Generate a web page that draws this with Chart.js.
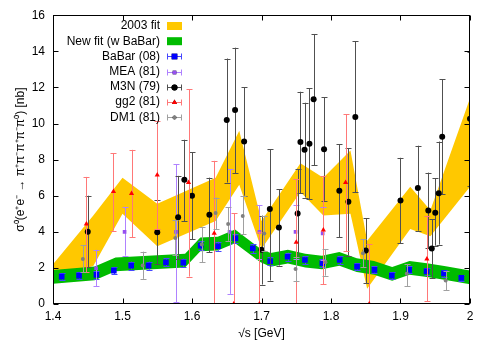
<!DOCTYPE html>
<html>
<head>
<meta charset="utf-8">
<script src="https://cdn.jsdelivr.net/npm/chart.js@4.4.0/dist/chart.umd.min.js"></script>
<style>
  html, body { margin: 0; padding: 0; background: #fff; }
  #wrap { width: 491px; height: 343px; }
</style>
</head>
<body>
<div id="wrap"><canvas id="xsec"></canvas></div>
<script>
// ---- data ----
const xTicks = [1.4, 1.5, 1.6, 1.7, 1.8, 1.9, 2.0];
const yTicks = [0, 2, 4, 6, 8, 10, 12, 14, 16];

// 2003 fit band
const fit03X  = [1.4, 1.458, 1.5, 1.55, 1.634, 1.668, 1.70, 1.756, 1.789, 1.828, 1.852, 1.914, 1.943, 2.0];
const fit03Lo = [1.45, 2.1, 5.0, 3.2, 4.6, 6.6, 3.05, 6.2, 4.9, 5.0, 0.85, 4.15, 3.75, 6.5];
const fit03Hi = [2.2, 4.9, 7.0, 5.55, 7.0, 9.6, 4.6, 7.8, 7.0, 8.5, 3.5, 6.5, 5.2, 11.4];

// new fit (w BaBar) band
const newX  = [1.4, 1.46, 1.49, 1.59, 1.612, 1.637, 1.662, 1.698, 1.713, 1.738, 1.763, 1.787, 1.812, 1.837, 1.862, 1.888, 1.913, 1.938, 1.963, 2.0];
const newLo = [1.12, 1.32, 1.82, 2.02, 2.92, 2.97, 3.37, 2.32, 2.07, 2.25, 2.02, 1.92, 2.12, 1.77, 1.62, 1.29, 1.62, 1.50, 1.34, 1.10];
const newHi = [1.88, 2.08, 2.58, 2.78, 3.68, 3.73, 4.13, 3.08, 2.83, 3.01, 2.78, 2.68, 2.88, 2.53, 2.38, 2.05, 2.38, 2.26, 2.10, 1.86];

// BaBar (08)
const babarX   = [1.4125, 1.4375, 1.4625, 1.4875, 1.5125, 1.5375, 1.5625, 1.5875, 1.6125, 1.6375, 1.6625, 1.6875,
                  1.7125, 1.7375, 1.7625, 1.7875, 1.8125, 1.8375, 1.8625, 1.8875, 1.9125, 1.9375, 1.9625, 1.9875];
const babarY   = [1.52, 1.57, 1.61, 1.85, 2.13, 2.13, 2.31, 2.29, 3.23, 3.20, 3.64, 3.08,
                  2.37, 2.62, 2.44, 2.26, 2.44, 2.07, 1.89, 1.57, 1.89, 1.81, 1.70, 1.45];
const babarErr = [0.18, 0.18, 0.20, 0.20, 0.22, 0.22, 0.22, 0.22, 0.25, 0.25, 0.25, 0.25,
                  0.22, 0.22, 0.22, 0.22, 0.22, 0.20, 0.20, 0.18, 0.20, 0.20, 0.18, 0.16];

// MEA (81)
const meaX  = [1.462, 1.503, 1.577, 1.654, 1.697, 1.749, 1.788];
const meaY  = [1.98, 4.0, 4.0, 4.0, 4.0, 4.0, 3.91];
const meaLo = [0.97, 2.68, 0.10, 0.56, 2.5, 2.5, 2.44];
const meaHi = [3.0, 5.35, 7.75, 7.47, 5.48, 5.5, 5.39];

// M3N (79)
const m3nX  = [1.450, 1.550, 1.580, 1.589, 1.600, 1.625, 1.650, 1.662, 1.675, 1.700, 1.712, 1.725, 1.752, 1.756, 1.762,
               1.769, 1.775, 1.790, 1.812, 1.825, 1.835, 1.850, 1.900, 1.925, 1.940, 1.945, 1.950, 1.955, 1.960, 2.000];
const m3nY  = [4.0, 3.97, 4.8, 6.88, 6.0, 4.94, 10.2, 10.75, 9.0, 3.0, 5.26, 4.24, 5.02, 8.98, 8.55,
               8.88, 11.34, 8.57, 6.27, 5.66, 10.36, 2.96, 5.74, 6.42, 5.18, 3.07, 5.06, 6.14, 9.27, 10.27];
const m3nLo = [2.03, 2.2, 2.5, 4.6, 3.6, 2.86, 6.73, 7.25, 6.0, 1.08, 1.3, 2.13, 2.59, 6.14, 5.9,
               5.8, 7.7, 5.72, 3.69, 2.68, 6.18, 1.15, 3.36, 4.06, 3.08, 1.45, 3.23, 3.29, 6.09, 6.55];
const m3nHi = [6.0, 5.76, 7.1, 9.1, 8.4, 7.0, 13.6, 14.2, 12.0, 4.9, 8.57, 6.36, 7.47, 11.76, 11.15,
               11.94, 14.96, 11.46, 8.85, 8.63, 14.56, 4.76, 8.1, 8.77, 7.28, 4.7, 6.97, 9.0, 12.44, 13.95];

// gg2 (81)
const gg2X  = [1.448, 1.487, 1.513, 1.550, 1.595, 1.632, 1.660, 1.697, 1.750, 1.789, 1.821, 1.855, 1.938];
const gg2Y  = [4.43, 6.23, 6.12, 7.15, 6.73, 3.92, 0, 0, 3.42, 4.1, 6.73, 0, 2.5];
const gg2Lo = [1.76, 4.06, 3.69, 4.15, 1.52, -0.1, 0, 0, 0, 1.1, 2.92, 0, 0.14];
const gg2Hi = [7.04, 8.35, 8.54, 10.14, 11.9, 7.93, 5.02, 4.0, 6.9, 7.1, 10.5, 3.3, 4.89];

// DM1 (81)
const dm1X  = [1.443, 1.529, 1.576, 1.614, 1.634, 1.652, 1.673, 1.704, 1.749, 1.792, 1.846, 1.909, 1.965];
const dm1Y  = [2.5, 2.13, 3.66, 3.29, 5.04, 4.43, 4.87, 3.91, 1.94, 2.31, 2.81, 1.67, 1.3];
const dm1Lo = [1.76, 1.39, 2.7, 2.31, 4.15, 3.5, 3.88, 2.96, 1.26, 1.57, 2.03, 0.97, 0.75];
const dm1Hi = [3.27, 2.9, 4.65, 4.24, 5.9, 5.35, 6.0, 4.89, 2.59, 3.05, 3.6, 2.22, 1.81];

const FONT = "'Liberation Sans', Arial, sans-serif";
const pts = (xs, ys) => xs.map((x, i) => ({ x: x, y: ys[i] }));

function band(xs, ys, color, order, fill) {
    return {
        type: 'line', data: pts(xs, ys), order: order,
        borderWidth: 0, pointRadius: 0, tension: 0,
        backgroundColor: color, borderColor: color,
        fill: fill ? '-1' : false
    };
}

function series(label, xs, ys, lo, hi, opts) {
    return Object.assign({
        type: 'scatter', label: label, data: pts(xs, ys),
        errLo: lo, errHi: hi
    }, opts);
}

const babarLo = babarY.map((v, i) => v - babarErr[i]);
const babarHi = babarY.map((v, i) => v + babarErr[i]);

const datasets = [
    band(fit03X, fit03Lo, '#ffc800', 21, false),
    band(fit03X, fit03Hi, '#ffc800', 20, true),
    band(newX, newLo, '#00bb00', 11, false),
    band(newX, newHi, '#00bb00', 10, true),
    series('BaBar (08)', babarX, babarY, babarLo, babarHi,
        { order: 5, pointStyle: 'rect', pointRadius: 4, backgroundColor: '#0000ff', borderColor: '#0000ff', borderWidth: 0, barColor: 'rgb(70,70,255)' }),
    series('MEA (81)', meaX, meaY, meaLo, meaHi,
        { order: 4, pointStyle: 'rect', pointRadius: 2.6, backgroundColor: 'rgb(150,80,240)', borderColor: 'rgb(150,80,240)', borderWidth: 0, barColor: 'rgb(175,130,255)' }),
    series('M3N (79)', m3nX, m3nY, m3nLo, m3nHi,
        { order: 3, pointStyle: 'circle', pointRadius: 3, backgroundColor: '#000', borderColor: '#000', borderWidth: 0, barColor: 'rgb(80,80,80)' }),
    series('gg2 (81)', gg2X, gg2Y, gg2Lo, gg2Hi,
        { order: 2, pointStyle: 'triangle', pointRadius: 3, backgroundColor: '#ff0000', borderColor: '#ff0000', borderWidth: 0, barColor: 'rgb(255,120,120)' }),
    series('DM1 (81)', dm1X, dm1Y, dm1Lo, dm1Hi,
        { order: 1, pointStyle: 'circle', pointRadius: 2, backgroundColor: '#808080', borderColor: '#808080', borderWidth: 0, barColor: 'rgb(160,160,160)' })
];

// vertical error bars, drawn just before each scatter set's markers
const errorBars = {
    id: 'errorBars',
    beforeDatasetDraw(chart, args) {
        const ds = chart.data.datasets[args.index];
        if (!ds.errLo) return;
        const { ctx, chartArea: a, scales: { x, y } } = chart;
        ctx.save();
        ctx.beginPath();
        ctx.rect(a.left, a.top, a.right - a.left, a.bottom - a.top);
        ctx.clip();
        ctx.strokeStyle = ds.barColor;
        ctx.lineWidth = 1;
        ds.data.forEach((p, i) => {
            const px = Math.round(x.getPixelForValue(p.x)) + 0.5;
            const y1 = y.getPixelForValue(ds.errLo[i]);
            const y2 = y.getPixelForValue(ds.errHi[i]);
            ctx.beginPath();
            ctx.moveTo(px, y1); ctx.lineTo(px, y2);
            ctx.moveTo(px - 3, Math.round(y1) + 0.5); ctx.lineTo(px + 3, Math.round(y1) + 0.5);
            ctx.moveTo(px - 3, Math.round(y2) + 0.5); ctx.lineTo(px + 3, Math.round(y2) + 0.5);
            ctx.stroke();
        });
        ctx.restore();
    }
};

// gnuplot-like frame with inward ticks + key
const frame = {
    id: 'frame',
    afterDraw(chart) {
        const { ctx, chartArea: a, scales: { x, y } } = chart;
        ctx.save();
        ctx.strokeStyle = '#000';
        ctx.lineWidth = 1;
        const L = Math.round(a.left) + 0.5, R = Math.round(a.right) - 0.5;
        const T = Math.round(a.top) + 0.5, B = Math.round(a.bottom) - 0.5;
        ctx.strokeRect(L, T, R - L, B - T);
        ctx.beginPath();
        x.ticks.forEach(t => {
            const px = Math.round(x.getPixelForValue(t.value)) + 0.5;
            ctx.moveTo(px, B); ctx.lineTo(px, B - 5);
            ctx.moveTo(px, T); ctx.lineTo(px, T + 5);
        });
        y.ticks.forEach(t => {
            const py = Math.round(y.getPixelForValue(t.value)) + 0.5;
            ctx.moveTo(L, py); ctx.lineTo(L + 5, py);
            ctx.moveTo(R, py); ctx.lineTo(R - 5, py);
        });
        ctx.stroke();

        // key
        ctx.font = '12px ' + FONT;
        ctx.textAlign = 'right';
        ctx.textBaseline = 'middle';
        const tx = 160, sx0 = 167, sx1 = 182;
        const rows = ['2003 fit', 'New fit (w BaBar)'].concat(chart.data.datasets.filter(d => d.errLo).map(d => d.label));
        rows.forEach((label, i) => {
            const ry = 26 + 15.2 * i;
            ctx.fillStyle = '#000';
            ctx.fillText(label, tx, ry);
            if (i < 2) {
                ctx.fillStyle = i === 0 ? '#ffc800' : '#00bb00';
                ctx.fillRect(sx0, ry - 4, sx1 - sx0, 8);
                return;
            }
            const ds = chart.data.datasets.filter(d => d.errLo)[i - 2];
            const yy = Math.round(ry) + 0.5;
            ctx.strokeStyle = ds.barColor;
            ctx.beginPath();
            ctx.moveTo(sx0, yy); ctx.lineTo(sx1, yy);
            ctx.moveTo(sx0 + 0.5, yy - 3); ctx.lineTo(sx0 + 0.5, yy + 3);
            ctx.moveTo(sx1 - 0.5, yy - 3); ctx.lineTo(sx1 - 0.5, yy + 3);
            ctx.stroke();
            Chart.helpers.drawPoint(ctx, {
                pointStyle: ds.pointStyle, radius: ds.pointRadius, rotation: 0, borderWidth: 0
            }, (sx0 + sx1) / 2, yy);
            ctx.fillStyle = ds.backgroundColor;
            ctx.fill();
        });
        ctx.restore();
    }
};

new Chart(document.getElementById('xsec'), {
    type: 'scatter',
    data: { datasets: datasets },
    options: {
        responsive: true,
        maintainAspectRatio: false,
        animation: false,
        devicePixelRatio: 1,
        layout: { padding: { left: 0, right: 21, top: 14, bottom: 0 } },
        plugins: { legend: { display: false }, tooltip: { enabled: false } },
        scales: {
            x: {
                type: 'linear', min: 1.4, max: 2.0,
                afterBuildTicks: s => { s.ticks = xTicks.map(v => ({ value: v })); },
                afterFit: s => { s.height = 39; },
                grid: { display: false, drawTicks: false },
                border: { display: false },
                ticks: { color: '#000', font: { size: 12, family: FONT }, padding: 5, maxRotation: 0,
                         callback: v => String(+v.toFixed(1)) },
                title: { display: true, text: '√s [GeV]', color: '#000', font: { size: 12, family: FONT }, padding: { top: 0, bottom: 2 } }
            },
            y: {
                type: 'linear', min: 0, max: 16,
                afterBuildTicks: s => { s.ticks = yTicks.map(v => ({ value: v })); },
                afterFit: s => { s.width = 53; },
                grid: { display: false, drawTicks: false },
                border: { display: false },
                ticks: { color: '#000', font: { size: 12, family: FONT }, padding: 8 },
                title: { display: true, text: 'σ⁰(e⁺e⁻ → π⁺π⁻π⁺π⁻π⁰) [nb]', color: '#000', font: { size: 12, family: FONT }, padding: { top: 13, bottom: 0 } }
            }
        }
    },
    plugins: [errorBars, frame]
});
</script>
</body>
</html>
